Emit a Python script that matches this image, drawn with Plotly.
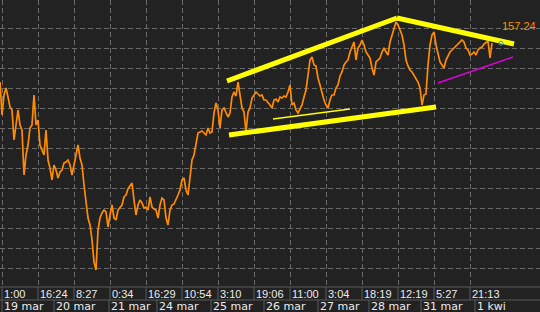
import plotly.graph_objects as go

# price series (one sample per 2 px column of the original)
prices = [
    155.30, 153.65, 154.65, 155.00, 154.55, 154.05, 153.90, 152.40, 153.15, 153.90,
    153.15, 152.90, 150.65, 151.65, 152.15, 153.00, 153.15, 154.65, 153.15, 153.40,
    152.15, 151.90, 151.65, 152.90, 151.40, 151.00, 150.40, 151.15, 150.90, 150.50,
    150.80, 150.90, 151.25, 151.30, 151.40, 151.15, 150.65, 151.15, 151.75, 152.15,
    151.50, 151.15, 150.15, 149.40, 148.50, 148.15, 147.40, 146.30, 145.90, 147.90,
    148.50, 148.75, 148.90, 148.80, 148.05, 148.65, 149.15, 148.50, 148.40, 148.90,
    149.00, 149.15, 149.55, 149.65, 149.95, 150.10, 150.25, 149.40, 148.65, 149.15,
    149.40, 149.25, 149.00, 149.05, 148.90, 149.55, 149.05, 148.95, 148.90, 148.50,
    149.15, 149.50, 149.40, 148.50, 148.15, 148.90, 149.15, 149.20, 149.40, 149.65,
    149.90, 150.40, 150.50, 149.90, 149.65, 150.40, 151.40, 151.65, 152.15, 152.75,
    152.80, 152.85, 152.75, 152.65, 153.00, 152.75, 152.80, 153.75, 154.25, 153.90,
    153.00, 153.90, 154.00, 153.80, 153.55, 153.75, 154.55, 154.80, 154.60, 155.30,
    154.65, 154.00, 153.80, 152.80, 153.80, 154.00, 154.50, 154.65, 154.80, 154.70,
    154.60, 154.65, 154.40, 154.40, 154.30, 154.15, 154.00, 154.40, 154.45, 154.30,
    154.55, 154.50, 154.60, 154.55, 154.80, 155.15, 154.15, 154.25, 153.90, 153.75,
    153.95, 154.15, 154.55, 154.90, 155.65, 156.40, 156.55, 156.15, 156.10, 155.50,
    155.15, 154.75, 154.40, 154.15, 154.00, 154.40, 154.65, 154.65, 155.00, 155.15,
    155.60, 155.80, 156.15, 156.30, 156.40, 156.80, 157.05, 157.30, 156.40, 157.00,
    157.15, 157.40, 157.15, 156.80, 156.65, 156.50, 156.00, 155.65, 156.30, 156.40,
    156.50, 156.80, 157.00, 156.80, 156.65, 157.30, 157.60, 157.90, 158.30, 158.15,
    157.90, 157.65, 157.15, 156.40, 156.10, 155.90, 155.80, 155.65, 155.50, 155.30,
    155.00, 154.15, 154.65, 154.70, 156.15, 157.15, 157.65, 157.80, 157.15, 156.65,
    156.30, 156.15, 156.00, 156.40, 156.60, 156.80, 156.90, 157.00, 157.15, 157.20,
    157.30, 157.40, 157.30, 157.00, 156.90, 156.65, 156.70, 156.80, 156.65, 156.90,
    157.00, 157.05, 157.20, 157.30, 157.35, 156.50, 157.24,
]
last_price = 157.24

# x-axis tick labels (time row) and positions (sample index)
tick_pos = [1, 19, 37, 55, 73, 91, 109, 127, 145, 163, 181, 199, 217, 235]
tick_text = ["1:00", "16:24", "8:27", "0:34", "16:29", "10:54", "3:10",
             "19:06", "11:00", "3:04", "18:19", "12:19", "5:27", "21:13"]

# date row labels and their starting positions (sample index)
date_pos = [1, 27, 54.5, 78.5, 105.5, 132, 159, 184.5, 210.5, 237.5]
date_text = ["19 mar", "20 mar", "21 mar", "24 mar", "25 mar",
             "26 mar", "27 mar", "28 mar", "31 mar", "1 kwi"]

# horizontal grid levels
grid_levels = [146, 147, 148, 149, 150, 151, 152, 153, 154, 155, 156, 157, 158]

# drawn trend lines (x = sample index, y = price)
upper_rise_x = [113.5, 198.5]
upper_rise_y = [155.35, 158.5]
upper_fall_x = [198.5, 257]
upper_fall_y = [158.5, 157.2]
lower_x = [114.5, 218]
lower_y = [152.65, 154.05]
thin_x = [136.5, 175]
thin_y = [153.45, 153.95]
magenta_x = [219, 256.5]
magenta_y = [155.25, 156.55]

x_idx = list(range(len(prices)))

fig = go.Figure()
fig.add_trace(go.Scatter(x=x_idx, y=prices, mode="lines",
                         line=dict(color="#ff8c00", width=1.7), hoverinfo="skip"))
fig.add_trace(go.Scatter(x=thin_x, y=thin_y, mode="lines",
                         line=dict(color="#ffff00", width=1.5)))
fig.add_trace(go.Scatter(x=magenta_x, y=magenta_y, mode="lines",
                         line=dict(color="#e000e0", width=1.5)))
for xs, ys in [(upper_rise_x, upper_rise_y), (upper_fall_x, upper_fall_y), (lower_x, lower_y)]:
    fig.add_trace(go.Scatter(x=xs, y=ys, mode="lines",
                             line=dict(color="#ffff00", width=5)))
fig.add_trace(go.Scatter(x=[len(prices) + 3.5], y=[last_price], mode="markers",
                         marker=dict(symbol="circle-open", size=4, color="#2aa0e0",
                                     line=dict(width=1, color="#2aa0e0"))))

grid_col = "#6a6a6a"
fig.update_xaxes(range=[0, 270], tickvals=tick_pos, showticklabels=False,
                 showgrid=True, gridcolor=grid_col, gridwidth=1, griddash="5px,3px",
                 zeroline=False, showline=False, ticks="")
fig.update_yaxes(range=[145.05, 159.4], tickvals=grid_levels, showticklabels=False,
                 showgrid=True, gridcolor=grid_col, gridwidth=1, griddash="5px,3px",
                 zeroline=False, showline=False, ticks="")

plot_h = 287.0
row1 = -13 / plot_h
row2 = -25 / plot_h
border = "#5a5a5a"
txt_col = "#ececec"

shapes = [
    dict(type="line", xref="paper", yref="paper", x0=0, x1=1, y0=0, y1=0,
         line=dict(color=border, width=1)),
    dict(type="line", xref="paper", yref="paper", x0=0, x1=1, y0=row1, y1=row1,
         line=dict(color=border, width=1)),
]
annotations = []
for p, t in zip(tick_pos, tick_text):
    shapes.append(dict(type="line", xref="x", yref="paper", x0=p, x1=p, y0=0, y1=row1,
                       line=dict(color=border, width=1)))
    annotations.append(dict(x=p, y=0, xref="x", yref="paper", text=t, showarrow=False,
                            xanchor="left", yanchor="middle", xshift=0, yshift=-7,
                            font=dict(family="Liberation Sans", size=11, color=txt_col)))
for p, t in zip(date_pos, date_text):
    shapes.append(dict(type="line", xref="x", yref="paper", x0=p, x1=p, y0=row1, y1=row2,
                       line=dict(color=border, width=1)))
    annotations.append(dict(x=p, y=0, xref="x", yref="paper", text=t, showarrow=False,
                            xanchor="left", yanchor="middle", xshift=0, yshift=-19,
                            font=dict(family="DejaVu Sans", size=11, color=txt_col)))

annotations.append(dict(x=250, y=158.12, xref="x", yref="y", text=f"{last_price:.2f}",
                        showarrow=False, xanchor="left", yanchor="middle",
                        font=dict(family="Liberation Sans", size=11, color="#ff8c00")))

fig.update_layout(width=540, height=312, margin=dict(l=0, r=0, t=0, b=25),
                  paper_bgcolor="#222222", plot_bgcolor="#222222",
                  showlegend=False, shapes=shapes, annotations=annotations)

fig.write_html("out.html")
